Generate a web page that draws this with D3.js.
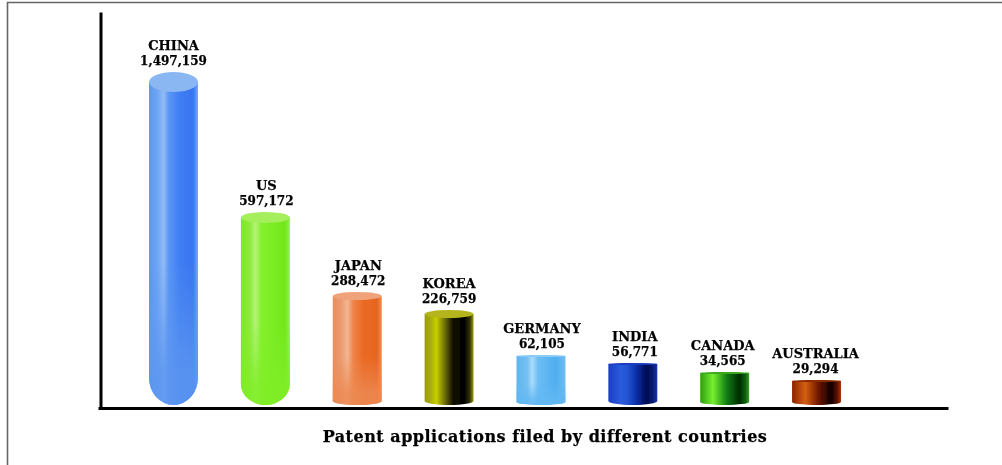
<!DOCTYPE html>
<html><head><meta charset="utf-8">
<script src="https://cdn.jsdelivr.net/npm/d3@7"></script>
<style>html,body{margin:0;padding:0;background:#fff;overflow:hidden}svg{display:block}</style>
</head><body><div id="chart"></div>
<script>
const countries = ["CHINA","US","JAPAN","KOREA","GERMANY","INDIA","CANADA","AUSTRALIA"];
const applications = [1497159,597172,288472,226759,62105,56771,34565,29294];
const chartTitle = "Patent applications filed by different countries";
// The drawn height is not proportional to the value: the picture's axis is non-linear.
const axisValues = [0,29294,34565,56771,62105,226759,288472,597172,1497159];
const axisHeights = [0,25,33,42,50,95,113,193,333];
const gradients = [
 [[0,"#5b96f0"],[.18,"#6fa6f4"],[.3,"#94bdf7"],[.4,"#5c96f5"],[.62,"#3f7ef3"],[.9,"#3a74f0"],[1,"#79abf6"]],
 [[0,"#7ee62c"],[.18,"#8cea3c"],[.3,"#b4f27a"],[.42,"#84f02c"],[.9,"#70e81a"],[1,"#98ee50"]],
 [[0,"#e68e60"],[.18,"#ec9c72"],[.3,"#f4b694"],[.42,"#ee8448"],[.62,"#ea6a24"],[.9,"#e8641e"],[1,"#f08c50"]],
 [[0,"#9a9a10"],[.12,"#a8ac08"],[.24,"#c8d000"],[.42,"#6a6a08"],[.58,"#101004"],[.82,"#000000"],[.93,"#3a3a06"],[1,"#a0a014"]],
 [[0,"#62b4ee"],[.22,"#74c0f2"],[.32,"#acdcfa"],[.44,"#6cbef4"],[.8,"#50aef0"],[1,"#70bcf2"]],
 [[0,"#1a3cc4"],[.25,"#2a5cdc"],[.38,"#2456d4"],[.55,"#0e34b0"],[.78,"#000a50"],[.9,"#061a70"],[1,"#1434a8"]],
 [[0,"#2aa012"],[.26,"#78ee30"],[.42,"#3cb020"],[.55,"#0e7a14"],[.8,"#002c00"],[.92,"#0c5c0c"],[1,"#38a024"]],
 [[0,"#8c2200"],[.27,"#d4600f"],[.42,"#a03604"],[.55,"#6a1400"],[.8,"#0c0000"],[.92,"#5a1002"],[1,"#b03408"]]
];
const capColors = ["#8ab6f2","#a6ef5c","#f0a27a","#b4b41c","#8accf6","#1a3cc0","#3aa81c","#8c2a04"];
const fadeColors = ["#5c96f0","#80ee28","#ec8a54",null,"#62b8f2",null,null,null];
const capRadii = [10,5.5,4,4,1,1,1,1];
const baseRadii = [27,21,4,4,3,4,3,3];
const labelShift = [0,1,1,0,1,2,-2,-1];

const W=1002,H=465,baseY=408,barBase=405;
const svg=d3.select("#chart").append("svg").attr("width",W).attr("height",H);
const defs=svg.append("defs");
defs.append("filter").attr("id","soft").attr("x","-5%").attr("y","-5%").attr("width","110%").attr("height","110%")
 .append("feGaussianBlur").attr("stdDeviation",0.6);
defs.append("filter").attr("id","softAxis").attr("filterUnits","userSpaceOnUse").attr("x",0).attr("y",0).attr("width",W).attr("height",H)
 .append("feGaussianBlur").attr("stdDeviation",0.35);
defs.append("filter").attr("id","softText").attr("x","-5%").attr("y","-20%").attr("width","110%").attr("height","140%")
 .append("feGaussianBlur").attr("stdDeviation",0.5);

const x=d3.scaleBand().domain(countries).range([98,948]).paddingInner(.467).paddingOuter(.86).align(.323);
const h=d3.scaleLinear().domain(axisValues).range(axisHeights);
const y=v=>barBase-h(v);
const yAxisScale=d3.scaleLinear().domain([0,1]).range([baseY,12]);

svg.append("path").attr("d",`M7.5,${H}V2.5H${W}`).attr("fill","none").attr("stroke","#666").attr("stroke-width",1.6);

const g=svg.append("g").attr("filter","url(#soft)");
gradients.forEach((stops,i)=>{
  const lg=defs.append("linearGradient").attr("id","bar"+i);
  stops.forEach(s=>lg.append("stop").attr("offset",s[0]).attr("stop-color",s[1]));
  if(fadeColors[i]){
    const f=defs.append("linearGradient").attr("id","fade"+i).attr("x1",0).attr("x2",0).attr("y1",0).attr("y2",1);
    f.append("stop").attr("offset",.55).attr("stop-color",fadeColors[i]).attr("stop-opacity",0);
    f.append("stop").attr("offset",.9).attr("stop-color",fadeColors[i]).attr("stop-opacity",.85);
  }
});
const rows=countries.map((c,i)=>({c,v:applications[i],i}));
const bodyPath=d=>{
  const x0=x(d.c),w=x.bandwidth(),t=y(d.v)+capRadii[d.i],rb=baseRadii[d.i];
  return `M${x0},${t}V${barBase-rb}A${w/2},${rb} 0 0 0 ${x0+w},${barBase-rb}V${t}Z`;
};
const bars=g.selectAll("g.bar").data(rows).join("g").attr("class","bar");
bars.append("path").attr("fill",d=>`url(#bar${d.i})`).attr("d",bodyPath);
bars.filter(d=>fadeColors[d.i]).append("path").attr("fill",d=>`url(#fade${d.i})`).attr("d",bodyPath);
bars.append("ellipse").attr("cx",d=>x(d.c)+x.bandwidth()/2).attr("cy",d=>y(d.v)+capRadii[d.i])
  .attr("rx",x.bandwidth()/2).attr("ry",d=>capRadii[d.i]).attr("fill",d=>capColors[d.i]);

const axG=svg.append("g").attr("filter","url(#softAxis)");
const axB=d3.axisBottom(x).tickSize(0).tickSizeOuter(0).tickFormat("");
const axL=d3.axisLeft(yAxisScale).tickValues([]).tickSizeOuter(0);
const gx=axG.append("g").attr("transform",`translate(0,${baseY})`).call(axB);
const gy=axG.append("g").attr("transform","translate(100.5,0)").call(axL);
[gx,gy].forEach(a=>{a.select(".domain").attr("stroke","#000").attr("stroke-width",3);a.selectAll(".tick").remove();});

const fmt=d3.format(",");
const lab=svg.append("g").attr("filter","url(#softText)").attr("font-family","'DejaVu Serif'").attr("font-weight","bold")
  .attr("text-anchor","middle").attr("fill","#000").attr("stroke","#000").attr("stroke-width",.25);
const lg=lab.selectAll("g").data(rows).join("g")
  .attr("transform",d=>`translate(${x(d.c)+x.bandwidth()/2+labelShift[d.i]},${y(d.v)-7.5})`);
lg.append("text").attr("font-size",12).text(d=>fmt(d.v));
lg.append("text").attr("y",-15).attr("font-size",13).text(d=>d.c);
lab.append("text").attr("x",545).attr("y",442).attr("font-size",16).attr("letter-spacing",.5).text(chartTitle);
</script></body></html>
